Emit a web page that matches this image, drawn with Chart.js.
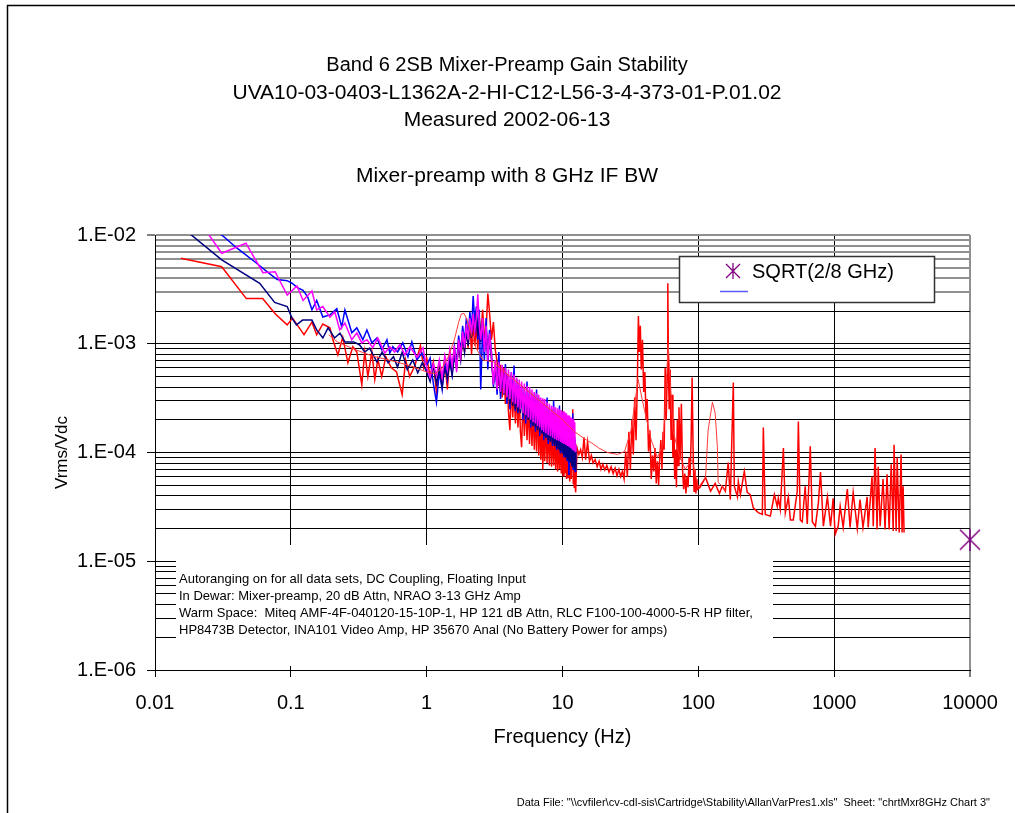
<!DOCTYPE html>
<html>
<head>
<meta charset="utf-8">
<title>Band 6 2SB Mixer-Preamp Gain Stability</title>
<script src="https://cdn.jsdelivr.net/npm/chart.js@4/dist/chart.umd.min.js"></script>
<style>
  html, body { margin: 0; padding: 0; background: #fff; overflow: hidden; }
  canvas { display: block; }
</style>
</head>
<body>
<canvas id="stability" width="1015" height="813"></canvas>
<script>
"use strict";

// axes
const xTickValues = [0.01, 0.1, 1, 10, 100, 1000, 10000];
const xTickLabels = ["0.01", "0.1", "1", "10", "100", "1000", "10000"];
const yTickLabels = ["1.E-06", "1.E-05", "1.E-04", "1.E-03", "1.E-02"];
const yDecades = [1e-6, 1e-5, 1e-4, 1e-3];
const yMantissas = [1, 2, 3, 4, 5, 6, 7, 8, 9];

const titleLines = [
  "Band 6 2SB Mixer-Preamp Gain Stability",
  "UVA10-03-0403-L1362A-2-HI-C12-L56-3-4-373-01-P.01.02",
  "Measured 2002-06-13",
  "Mixer-preamp with 8 GHz IF BW",
];
const noteLines = [
  "Autoranging on for all data sets, DC Coupling, Floating Input",
  "In Dewar: Mixer-preamp, 20 dB Attn, NRAO 3-13 GHz Amp",
  "Warm Space:  Miteq AMF-4F-040120-15-10P-1, HP 121 dB Attn, RLC F100-100-4000-5-R HP filter,",
  "HP8473B Detector, INA101 Video Amp, HP 35670 Anal (No Battery Power for amps)",
];
const footerText = 'Data File: "\\\\cvfiler\\cv-cdl-sis\\Cartridge\\Stability\\AllanVarPres1.xls"  Sheet: "chrtMxr8GHz Chart 3"';

// shared frequency grids of the 1 - 12.5 Hz sweep
const cloudFreq = [1.0, 1.06, 1.12, 1.18, 1.24, 1.3, 1.36, 1.42, 1.48, 1.54, 1.6, 1.66, 1.72, 1.78, 1.84, 1.9, 1.96, 2.02, 2.08, 2.14,
  2.2, 2.26, 2.32, 2.38, 2.44, 2.5, 2.58, 2.66, 2.74, 2.82, 2.9];
const fineFreq = [3.0, 3.1, 3.2, 3.3, 3.4, 3.5, 3.6, 3.7, 3.8, 3.9,
  4.0, 4.1, 4.2, 4.3, 4.4, 4.5, 4.6, 4.7, 4.8, 4.9,
  5.0, 5.12, 5.24, 5.36, 5.48, 5.6, 5.72, 5.84, 5.96, 6.08,
  6.2, 6.32, 6.44, 6.56, 6.68, 6.8, 6.92, 7.04, 7.16, 7.28,
  7.4, 7.55, 7.7, 7.85, 8.0, 8.15, 8.3, 8.45, 8.6, 8.75,
  8.9, 9.05, 9.2, 9.35, 9.5, 9.65, 9.8, 9.95, 10.1, 10.25,
  10.4, 10.55, 10.7, 10.85, 11.0, 11.15, 11.3, 11.45, 11.6, 11.75,
  11.9, 12.0, 12.1, 12.2, 12.3, 12.4, 12.5];

// navy trace
const navyLowFreq = [0.0155, 0.031, 0.059, 0.076, 0.094, 0.102, 0.11, 0.122, 0.143, 0.155, 0.172, 0.188, 0.21, 0.23, 0.25,
  0.29, 0.32, 0.35, 0.38, 0.43, 0.47, 0.52, 0.57, 0.61, 0.66, 0.72, 0.79, 0.86, 0.93];
const navyLowVal = [1.2e-2, 5.9e-3, 3.6e-3, 2.4e-3, 2.2e-3, 1.72e-3, 1.49e-3, 1.65e-3, 1.65e-3, 1.34e-3, 1.13e-3, 1.4e-3, 1.13e-3, 1.25e-3, 1.04e-3,
  1.04e-3, 9.8e-4, 8.4e-4, 9.1e-4, 6.8e-4, 8.4e-4, 6.7e-4, 7.6e-4, 6.1e-4, 8.4e-4, 5.8e-4, 7.1e-4, 5.4e-4, 6.7e-4];
const navyCloudVal = [5.5e-4, 4.5e-4, 6.3e-4, 4.3e-4, 5.8e-4, 4.0e-4, 6.0e-4, 4.9e-4, 6.8e-4, 5.1e-4,
  7.7e-4, 6.0e-4, 9.6e-4, 7.1e-4, 1.13e-3, 8.4e-4, 1.34e-3, 9.6e-4, 1.58e-3, 1.13e-3,
  1.8e-3, 1.24e-3, 1.96e-3, 1.19e-3, 1.72e-3, 1.04e-3, 1.58e-3, 9.2e-4, 1.4e-3, 7.7e-4, 1.19e-3];
const navyFineVal = [7.1e-4, 4.3e-4, 6.3e-4, 4.0e-4, 5.8e-4, 3.5e-4, 5.3e-4, 3.4e-4, 5.1e-4, 3.1e-4,
  4.7e-4, 2.8e-4, 4.5e-4, 2.7e-4, 4.1e-4, 2.5e-4, 4.0e-4, 2.4e-4, 3.8e-4, 2.3e-4,
  3.6e-4, 2.2e-4, 3.5e-4, 2.1e-4, 3.4e-4, 2.0e-4, 3.2e-4, 1.85e-4, 3.1e-4, 1.75e-4,
  2.9e-4, 1.7e-4, 2.8e-4, 1.6e-4, 2.7e-4, 1.55e-4, 2.6e-4, 1.5e-4, 2.5e-4, 1.42e-4,
  2.4e-4, 1.37e-4, 2.3e-4, 1.3e-4, 2.2e-4, 1.25e-4, 2.1e-4, 1.2e-4, 2.0e-4, 1.15e-4,
  1.95e-4, 1.1e-4, 1.9e-4, 1.06e-4, 1.85e-4, 1.02e-4, 1.8e-4, 9.8e-5, 1.75e-4, 9.4e-5,
  1.7e-4, 9e-5, 1.65e-4, 8.6e-5, 1.6e-4, 8.3e-5, 1.55e-4, 8e-5, 1.5e-4, 7.6e-5,
  1.42e-4, 7.4e-5, 1.37e-4, 7.6e-5, 1.3e-4, 7e-5, 1.02e-4];

// blue trace
const blueLowFreq = [0.0214, 0.031, 0.04, 0.056, 0.0667, 0.0793, 0.094, 0.102, 0.111, 0.123, 0.133, 0.143, 0.155, 0.172, 0.194, 0.218, 0.237,
  0.25, 0.281, 0.306, 0.339, 0.363, 0.395, 0.43, 0.467, 0.51, 0.535, 0.563, 0.612, 0.667, 0.728, 0.778, 0.848, 0.923];
const blueLowVal = [1.32e-2, 1.0e-2, 7.6e-3, 5.5e-3, 4.6e-3, 3.9e-3, 3.8e-3, 3.6e-3, 3.3e-3, 3.1e-3, 2.7e-3, 2.05e-3, 2.5e-3, 1.76e-3, 1.84e-3, 2.1e-3, 1.43e-3,
  2.05e-3, 1.26e-3, 1.4e-3, 1.09e-3, 1.34e-3, 1.02e-3, 1.13e-3, 8.8e-4, 1.09e-3, 8.2e-4, 9.4e-4, 8.4e-4, 1.02e-3, 7.6e-4, 1.04e-3, 7.1e-4, 8.2e-4];
const blueCloudVal = [6.3e-4, 7.4e-4, 4.3e-4, 2.9e-4, 5.5e-4, 3.8e-4, 7.1e-4, 4.7e-4, 7.7e-4, 5.3e-4,
  9.2e-4, 6.5e-4, 1.19e-3, 8.4e-4, 1.46e-3, 1.04e-3, 1.72e-3, 1.13e-3, 1.96e-3, 1.34e-3,
  2.75e-3, 1.52e-3, 2.2e-3, 1.09e-3, 2.05e-3, 3.8e-4, 1.34e-3, 7.1e-4, 1.72e-3, 5.8e-4, 1.34e-3];
const blueFineVal = [8.4e-4, 4.0e-4, 6.3e-4, 3.4e-4, 8.4e-4, 3.1e-4, 5.8e-4, 3.6e-4, 6.5e-4, 2.8e-4,
  5.1e-4, 2.5e-4, 5.5e-4, 3.1e-4, 6.3e-4, 2.4e-4, 4.7e-4, 2.3e-4, 4.3e-4, 2.6e-4,
  4.1e-4, 2.0e-4, 4.0e-4, 1.85e-4, 4.5e-4, 2.1e-4, 3.8e-4, 1.7e-4, 3.4e-4, 1.75e-4,
  3.5e-4, 1.55e-4, 3.8e-4, 1.7e-4, 3.2e-4, 1.42e-4, 2.8e-4, 1.5e-4, 2.9e-4, 1.3e-4,
  2.7e-4, 1.37e-4, 3.2e-4, 1.2e-4, 2.6e-4, 1.3e-4, 2.5e-4, 1.15e-4, 3.0e-4, 1.2e-4,
  2.3e-4, 1.06e-4, 2.2e-4, 1.1e-4, 2.7e-4, 9.8e-5, 2.0e-4, 1.02e-4, 1.9e-4, 9e-5,
  2.3e-4, 9.4e-5, 1.75e-4, 8.3e-5, 1.7e-4, 6.2e-5, 1.6e-4, 8e-5, 1.55e-4, 7.6e-5,
  2.3e-4, 7e-5, 1.5e-4, 7.4e-5, 1.37e-4, 6.7e-5, 1.15e-4];

// magenta trace
const magentaLowFreq = [0.0214, 0.031, 0.0467, 0.0623, 0.0766, 0.094, 0.111, 0.123, 0.143, 0.155, 0.172, 0.194, 0.211, 0.229, 0.25,
  0.281, 0.306, 0.333, 0.363, 0.401, 0.437, 0.492, 0.535, 0.582, 0.634, 0.691, 0.753, 0.848, 0.94];
const magentaLowVal = [1.32e-2, 6.8e-3, 8.4e-3, 4.5e-3, 4.6e-3, 2.8e-3, 3.4e-3, 2.5e-3, 3.05e-3, 2.05e-3, 2.2e-3, 1.76e-3, 1.96e-3, 1.34e-3, 1.55e-3,
  1.09e-3, 1.26e-3, 1.02e-3, 1.09e-3, 9.2e-4, 1.13e-3, 8.2e-4, 9.4e-4, 8.4e-4, 9.8e-4, 7.9e-4, 9.4e-4, 7.5e-4, 9.2e-4];
const magentaCloudVal = [6e-4, 4.9e-4, 6.5e-4, 5.1e-4, 7.1e-4, 4.9e-4, 7.7e-4, 5.8e-4, 8.8e-4, 6.3e-4,
  9.6e-4, 5.5e-4, 1.09e-3, 7.7e-4, 1.3e-3, 9.2e-4, 1.52e-3, 1.09e-3, 1.72e-3, 1.24e-3,
  1.88e-3, 1.3e-3, 1.72e-3, 2.85e-3, 1.46e-3, 1.09e-3, 1.72e-3, 8.4e-4, 1.46e-3, 7.1e-4, 1.24e-3];
const magentaFineVal = [7.9e-4, 4.2e-4, 7.1e-4, 3.8e-4, 6.8e-4, 3.6e-4, 6.4e-4, 3.5e-4, 6.0e-4, 3.2e-4,
  5.8e-4, 3.1e-4, 5.5e-4, 2.9e-4, 5.2e-4, 2.8e-4, 4.9e-4, 2.6e-4, 4.7e-4, 2.5e-4,
  4.5e-4, 2.3e-4, 4.3e-4, 2.2e-4, 4.1e-4, 2.1e-4, 4.0e-4, 2.0e-4, 3.8e-4, 1.9e-4,
  3.6e-4, 1.85e-4, 3.5e-4, 1.75e-4, 3.4e-4, 1.7e-4, 3.2e-4, 1.6e-4, 3.15e-4, 1.55e-4,
  3.1e-4, 1.5e-4, 2.9e-4, 1.45e-4, 2.8e-4, 1.42e-4, 2.7e-4, 1.37e-4, 2.65e-4, 1.33e-4,
  2.6e-4, 1.3e-4, 2.55e-4, 1.28e-4, 2.5e-4, 1.25e-4, 2.45e-4, 1.22e-4, 2.4e-4, 1.2e-4,
  2.35e-4, 1.18e-4, 2.3e-4, 1.15e-4, 2.2e-4, 1.13e-4, 2.15e-4, 1.1e-4, 2.1e-4, 1.08e-4,
  2.05e-4, 1.06e-4, 2.0e-4, 1.06e-4, 1.9e-4, 1.02e-4, 1.18e-4];

// red trace (full span)
const redLowFreq = [0.0155, 0.031, 0.047, 0.062, 0.077, 0.094, 0.103, 0.125, 0.143, 0.155, 0.172, 0.194, 0.204, 0.222, 0.241, 0.263, 0.286,
  0.306, 0.333, 0.35, 0.369, 0.395, 0.415, 0.437, 0.467, 0.5, 0.55, 0.6, 0.66, 0.7, 0.75, 0.82, 0.9, 0.95];
const redLowVal = [6.1e-3, 5.1e-3, 2.6e-3, 2.6e-3, 1.88e-3, 1.49e-3, 1.72e-3, 1.21e-3, 1.58e-3, 1.21e-3, 1.52e-3, 1.4e-3, 1.09e-3, 7.9e-4, 1.15e-3, 6.7e-4, 9.4e-4,
  8.4e-4, 4.2e-4, 8.4e-4, 5.0e-4, 8.4e-4, 4.7e-4, 7.2e-4, 5.0e-4, 7.6e-4, 6.0e-4, 5.5e-4, 3.4e-4, 7.1e-4, 5.0e-4, 6.3e-4, 9.6e-4, 6.0e-4];
const redCloudVal = [7.4e-4, 5.1e-4, 6.8e-4, 3.6e-4, 6.3e-4, 4.5e-4, 7.1e-4, 3.8e-4, 7.7e-4, 5.5e-4,
  8.8e-4, 6.3e-4, 1.04e-3, 7.1e-4, 1.19e-3, 8.4e-4, 1.4e-3, 9.2e-4, 1.65e-3, 8e-4,
  1.58e-3, 9.6e-4, 1.46e-3, 8.8e-4, 1.72e-3, 1.09e-3, 2.05e-3, 1.19e-3, 1.34e-3, 2.9e-3, 1.96e-3];
const redFineVal = [1.09e-3, 1.58e-3, 8.8e-4, 6.8e-4, 4.1e-4, 6.4e-4, 3.2e-4, 6.0e-4, 2.8e-4, 5.3e-4,
  2.4e-4, 1.6e-4, 4.3e-4, 2.1e-4, 3.8e-4, 1.85e-4, 3.6e-4, 1.7e-4, 3.4e-4, 1.55e-4,
  1.12e-4, 3.2e-4, 1.42e-4, 2.9e-4, 1.3e-4, 2.8e-4, 1.2e-4, 2.6e-4, 1.15e-4, 2.5e-4,
  1.06e-4, 2.4e-4, 1.02e-4, 3.1e-4, 9.4e-5, 2.3e-4, 8.6e-5, 2.2e-4, 7e-5, 2.1e-4,
  8.3e-5, 2.0e-4, 8e-5, 1.9e-4, 7.6e-5, 1.85e-4, 7.4e-5, 1.75e-4, 7.6e-5, 1.7e-4,
  7e-5, 1.6e-4, 6.7e-5, 1.55e-4, 7e-5, 1.5e-4, 6.4e-5, 1.42e-4, 6.1e-5, 1.37e-4,
  6.4e-5, 1.3e-4, 5.7e-5, 1.25e-4, 5.9e-5, 1.2e-4, 5.4e-5, 1.15e-4, 5.7e-5, 1.6e-4,
  2.5e-4, 5.2e-5, 1.1e-4, 4.8e-5, 1.06e-4, 5.0e-5, 4.3e-5];
const redMidFreq = [12.8, 13.2, 13.6, 14.0, 14.4, 14.8, 15.3, 15.8, 16.3, 16.8,
  17.4, 18.0, 18.6, 19.2, 19.8, 20.5, 21.2, 22.0, 22.8, 23.6,
  24.4, 25.2, 26.0, 26.8, 27.6, 28.4, 29.2, 30.0, 30.8, 31.6,
  32.4, 33.2, 34.0, 34.8, 35.6, 36.2, 36.8, 37.4, 38.0, 38.8,
  39.6, 40.4, 41.2, 42.0, 43.0, 44.0, 45.0, 46.0, 47.0, 48.0,
  49.0, 50.0, 51.0, 52.0, 53.0, 54.0, 55.0, 56.0, 57.0, 58.0,
  59.0, 59.6, 60.2, 61.0, 62.0, 63.0, 64.0, 65.0, 66.0, 67.0,
  68.0, 69.0, 70.0, 71.0, 72.0, 73.5, 75.0, 76.5, 78.0, 79.5,
  81.0, 82.5, 84.0, 85.5, 87.0, 88.5, 90.0, 91.5, 93.0, 94.5,
  96.0, 97.5, 99.0];
const redMidVal = [1.1e-4, 9.6e-5, 1.06e-4, 9e-5, 1.38e-4, 8.6e-5, 1.25e-4, 8.3e-5, 9.4e-5, 8e-5,
  8.6e-5, 7.4e-5, 8.3e-5, 7e-5, 7.8e-5, 6.9e-5, 7.6e-5, 6.6e-5, 7.4e-5, 6.4e-5,
  7.2e-5, 6.1e-5, 7e-5, 6e-5, 6.7e-5, 5.7e-5, 1.02e-4, 6e-5, 1.55e-4, 7e-5,
  2e-4, 9.6e-5, 3.2e-4, 1.3e-4, 4.7e-4, 1.8e-3, 8.4e-4, 1.46e-3, 5.8e-4, 1.09e-3,
  3.6e-4, 5.5e-4, 2e-4, 3.1e-4, 1.02e-4, 1.6e-4, 5.7e-5, 9.4e-5, 6.7e-5, 1.1e-4,
  5.2e-5, 8.3e-5, 5e-5, 9e-5, 1.3e-4, 7e-5, 1.55e-4, 1.06e-4, 6e-4, 2e-4,
  5.1e-4, 3.6e-3, 6.3e-4, 2.5e-4, 5.8e-4, 1.3e-4, 3.4e-4, 9e-5, 2e-4, 5.7e-5,
  1.06e-4, 4.8e-5, 2e-4, 7.6e-5, 2.6e-4, 8.6e-5, 2.8e-4, 7e-5, 4.6e-5, 6.4e-5,
  4.2e-5, 6e-5, 4.8e-5, 9e-5, 6.1e-5, 1.3e-4, 4.9e-4, 1.06e-4, 4.4e-5, 7e-5,
  4.2e-5, 5.7e-5, 4.6e-5];
const redHighFreq = [103, 113, 123, 133, 143, 150, 158, 166, 172, 181,
  184, 194, 197, 204, 218, 229, 241, 254, 276, 296,
  301, 311, 339, 363, 381, 388, 401, 423, 437, 460,
  476, 500, 535, 545, 563, 582, 612, 634, 667, 691,
  728, 766, 793, 833, 892, 940, 983, 1017, 1070, 1107,
  1165, 1250, 1310, 1380, 1480, 1550, 1630, 1750, 1780, 1900,
  1940, 2000, 2070, 2110, 2180, 2290, 2370, 2450, 2540, 2630,
  2720, 2760, 2860, 2910, 3010, 3110, 3160, 3220, 3270];
const redHighVal = [4.8e-5, 5.9e-5, 4.4e-5, 5.2e-5, 4.2e-5, 4.9e-5, 4.4e-5, 8.1e-5, 3.7e-5, 4.4e-4,
  4.9e-5, 3.9e-5, 5.4e-5, 4.1e-5, 6.7e-5, 4.3e-5, 4.1e-5, 3.1e-5, 2.8e-5, 2.7e-5,
  1.7e-4, 2.7e-5, 2.6e-5, 4.1e-5, 3.2e-5, 3.8e-5, 3e-5, 1.1e-4, 2.8e-5, 3.9e-5,
  2.4e-5, 2.4e-5, 4.4e-5, 1.93e-4, 2.4e-5, 2.3e-5, 4.9e-5, 2.2e-5, 1.14e-4, 2.3e-5,
  2.1e-5, 3.5e-5, 6.6e-5, 2.1e-5, 3.9e-5, 2.1e-5, 3.8e-5, 1.77e-5, 2.1e-5, 3.2e-5,
  2.05e-5, 4.6e-5, 2.05e-5, 4.3e-5, 2e-5, 3.7e-5, 2.05e-5, 3.9e-5, 2.05e-5, 6e-5,
  2.1e-5, 1.1e-4, 1.96e-5, 7.4e-5, 2.1e-5, 5.7e-5, 1.96e-5, 6.3e-5, 1.96e-5, 7.8e-5,
  1.9e-5, 1.18e-4, 1.9e-5, 9e-5, 1.84e-5, 9.6e-5, 1.84e-5, 4.9e-5, 1.84e-5];

// thin red trace (coarse resolution)
const redCoarseFreq = [0.19, 0.22, 0.3, 0.4, 0.55, 0.75, 1.0, 1.15, 1.3, 1.45,
  1.6, 1.72, 1.8, 1.88, 1.96, 2.1, 2.3, 2.6, 3.1, 3.95,
  5.0, 7.0, 10, 12.3, 15, 16.3, 18.5, 21.4, 25.4, 28.6,
  32, 36, 40, 45, 50, 55, 60, 65, 72, 80,
  90, 100, 113, 118, 127, 133, 138, 140, 150, 158];
const redCoarseVal = [1.21e-3, 1.04e-3, 8.8e-4, 7.7e-4, 7e-4, 6.3e-4, 5.5e-4, 5.3e-4, 6e-4, 7.7e-4,
  1.09e-3, 1.58e-3, 1.88e-3, 1.9e-3, 1.72e-3, 1.3e-3, 9.2e-4, 7.1e-4, 6.8e-4, 5.2e-4,
  4.1e-4, 2.9e-4, 2e-4, 1.55e-4, 1.3e-4, 1.23e-4, 1.1e-4, 1e-4, 9.6e-5, 1.02e-4,
  1.6e-4, 4.7e-4, 2.5e-4, 1.3e-4, 9e-5, 1.18e-4, 9.8e-4, 1.6e-4, 9.6e-5, 7e-5,
  8.6e-5, 4.8e-5, 5.9e-5, 1.6e-4, 2.9e-4, 2.3e-4, 1.14e-4, 5.3e-5, 4.9e-5, 4.4e-5];

// reference point
const sqrtFreq = [10000];
const sqrtVal = [1.58e-5];

const FONT = "'Liberation Sans', Arial, sans-serif";
Chart.defaults.font.family = FONT;
Chart.defaults.color = "#000";

function pairs(freqs, vals) {
  return freqs.map((f, i) => ({ x: f, y: vals[i] }));
}

function isDecade(v) {
  const e = Math.log10(v);
  return Math.abs(e - Math.round(e)) < 1e-9;
}

function makeStar(size, color, width) {
  const c = document.createElement("canvas");
  c.width = size;
  c.height = size;
  const g = c.getContext("2d");
  g.strokeStyle = color;
  g.lineWidth = width;
  g.beginPath();
  g.moveTo(1, 1);
  g.lineTo(size - 1, size - 1);
  g.moveTo(size - 1, 1);
  g.lineTo(1, size - 1);
  g.moveTo(size / 2, 0);
  g.lineTo(size / 2, size);
  g.stroke();
  return c;
}

const bigStar = makeStar(22, "#800080", 1.5);
const smallStar = makeStar(16, "#800080", 1.3);

const yGridValues = yDecades.flatMap((d) => yMantissas.map((m) => m * d)).concat([1e-2]);

const decorPlugin = {
  id: "decor",
  beforeDatasetsDraw(chart) {
    const ctx = chart.ctx;
    ctx.save();
    // note box over the lowest decade
    ctx.fillStyle = "#fff";
    ctx.fillRect(176, 545, 597, 121);
    ctx.fillStyle = "#000";
    ctx.font = "13px " + FONT;
    ctx.textAlign = "left";
    ctx.textBaseline = "middle";
    noteLines.forEach((t, i) => ctx.fillText(t, 179, 579 + i * 17));
    ctx.restore();
  },
  afterDraw(chart) {
    const ctx = chart.ctx;
    ctx.save();
    // page frame
    ctx.strokeStyle = "#000";
    ctx.lineWidth = 1.5;
    ctx.beginPath();
    ctx.moveTo(7.5, 813);
    ctx.lineTo(7.5, 5.5);
    ctx.lineTo(1015, 5.5);
    ctx.stroke();

    // titles
    ctx.fillStyle = "#000";
    ctx.textAlign = "center";
    ctx.textBaseline = "middle";
    const titleY = [65, 93, 120, 176];
    titleLines.forEach((t, i) => {
      ctx.font = (i === 0 ? "20px " : "21px ") + FONT;
      ctx.fillText(t, 507, titleY[i]);
    });

    // legend
    ctx.fillStyle = "#fff";
    ctx.fillRect(679, 256, 256, 46);
    ctx.strokeStyle = "#333";
    ctx.lineWidth = 1.5;
    ctx.strokeRect(679.5, 256.5, 255, 46);
    ctx.drawImage(smallStar, 725, 263);
    ctx.fillStyle = "#000";
    ctx.font = "20px " + FONT;
    ctx.textAlign = "left";
    ctx.fillText(chart.data.datasets[0].label, 752, 272);
    ctx.strokeStyle = "#5b5bff";
    ctx.lineWidth = 1.5;
    ctx.beginPath();
    ctx.moveTo(720, 291.5);
    ctx.lineTo(748, 291.5);
    ctx.stroke();

    // footer
    ctx.fillStyle = "#000";
    ctx.font = "11px " + FONT;
    ctx.textAlign = "right";
    ctx.fillText(footerText, 990, 803);
    ctx.restore();
  },
};

const lineSet = (label, data, color, width) => ({
  label: label,
  data: data,
  borderColor: color,
  backgroundColor: color,
  borderWidth: width,
  pointRadius: 0,
  tension: 0,
  fill: false,
});

// first dataset is painted on top
new Chart(document.getElementById("stability"), {
  type: "line",
  data: {
    datasets: [
      {
        label: "SQRT(2/8 GHz)",
        data: pairs(sqrtFreq, sqrtVal),
        showLine: false,
        pointStyle: bigStar,
        pointRadius: 11,
        borderColor: "#800080",
        backgroundColor: "#800080",
        clip: false,
      },
      lineSet("", pairs(redCoarseFreq, redCoarseVal), "#ff3b3b", 1),
      lineSet("", pairs(magentaLowFreq, magentaLowVal).concat(pairs(cloudFreq, magentaCloudVal), pairs(fineFreq, magentaFineVal)), "#ff00ff", 1.5),
      lineSet("", pairs(navyLowFreq, navyLowVal).concat(pairs(cloudFreq, navyCloudVal), pairs(fineFreq, navyFineVal)), "#000080", 1.5),
      lineSet("", pairs(blueLowFreq, blueLowVal).concat(pairs(cloudFreq, blueCloudVal), pairs(fineFreq, blueFineVal)), "#0000ff", 1.5),
      lineSet("", pairs(redLowFreq, redLowVal).concat(pairs(cloudFreq, redCloudVal), pairs(fineFreq, redFineVal), pairs(redMidFreq, redMidVal), pairs(redHighFreq, redHighVal)), "#ff0000", 1.5),
    ],
  },
  options: {
    responsive: false,
    animation: false,
    devicePixelRatio: 1,
    layout: { padding: { left: 0, top: 235, right: 45, bottom: 0 } },
    plugins: {
      legend: { display: false },
      tooltip: { enabled: false },
    },
    scales: {
      x: {
        type: "logarithmic",
        min: 0.01,
        max: 10000,
        afterBuildTicks: (scale) => {
          scale.ticks = xTickValues.map((v) => ({ value: v }));
        },
        afterFit: (scale) => {
          scale.height = 143;
        },
        ticks: {
          autoSkip: false,
          maxRotation: 0,
          padding: 14,
          color: "#000",
          font: { size: 20 },
          callback: (v, i) => xTickLabels[i],
        },
        grid: {
          color: (c) => (c.tick && c.tick.value === 10000 ? "#909090" : "#000"),
          lineWidth: (c) => (c.tick && c.tick.value === 10000 ? 2 : 1),
          tickLength: 7,
          tickColor: "#000",
          tickWidth: 1,
        },
        border: { display: true, color: "#000", width: 1 },
        title: { display: true, text: "Frequency (Hz)", color: "#000", font: { size: 20 }, padding: { top: 0, bottom: 64 } },
      },
      y: {
        type: "logarithmic",
        min: 1e-6,
        max: 1e-2,
        afterBuildTicks: (scale) => {
          scale.ticks = yGridValues.map((v) => ({ value: v }));
        },
        afterFit: (scale) => {
          scale.width = 155;
        },
        ticks: {
          autoSkip: false,
          padding: 11,
          color: "#000",
          font: { size: 20 },
          callback: (v) => (isDecade(v) ? yTickLabels[Math.round(Math.log10(v)) + 6] : ""),
        },
        grid: {
          color: (c) => (c.tick && c.tick.value > 2.5e-3 ? "#909090" : "#000"),
          lineWidth: (c) => (c.tick && c.tick.value > 2.5e-3 ? 2 : 1),
          tickLength: 8,
          tickWidth: 1,
          tickColor: (c) => (c.tick && isDecade(c.tick.value) ? "#000" : "rgba(0,0,0,0)"),
        },
        border: { display: true, color: "#000", width: 1 },
        title: { display: true, text: "Vrms/Vdc", color: "#000", font: { size: 17 }, padding: { top: 52, bottom: 0 } },
      },
    },
  },
  plugins: [decorPlugin],
});
</script>
</body>
</html>
